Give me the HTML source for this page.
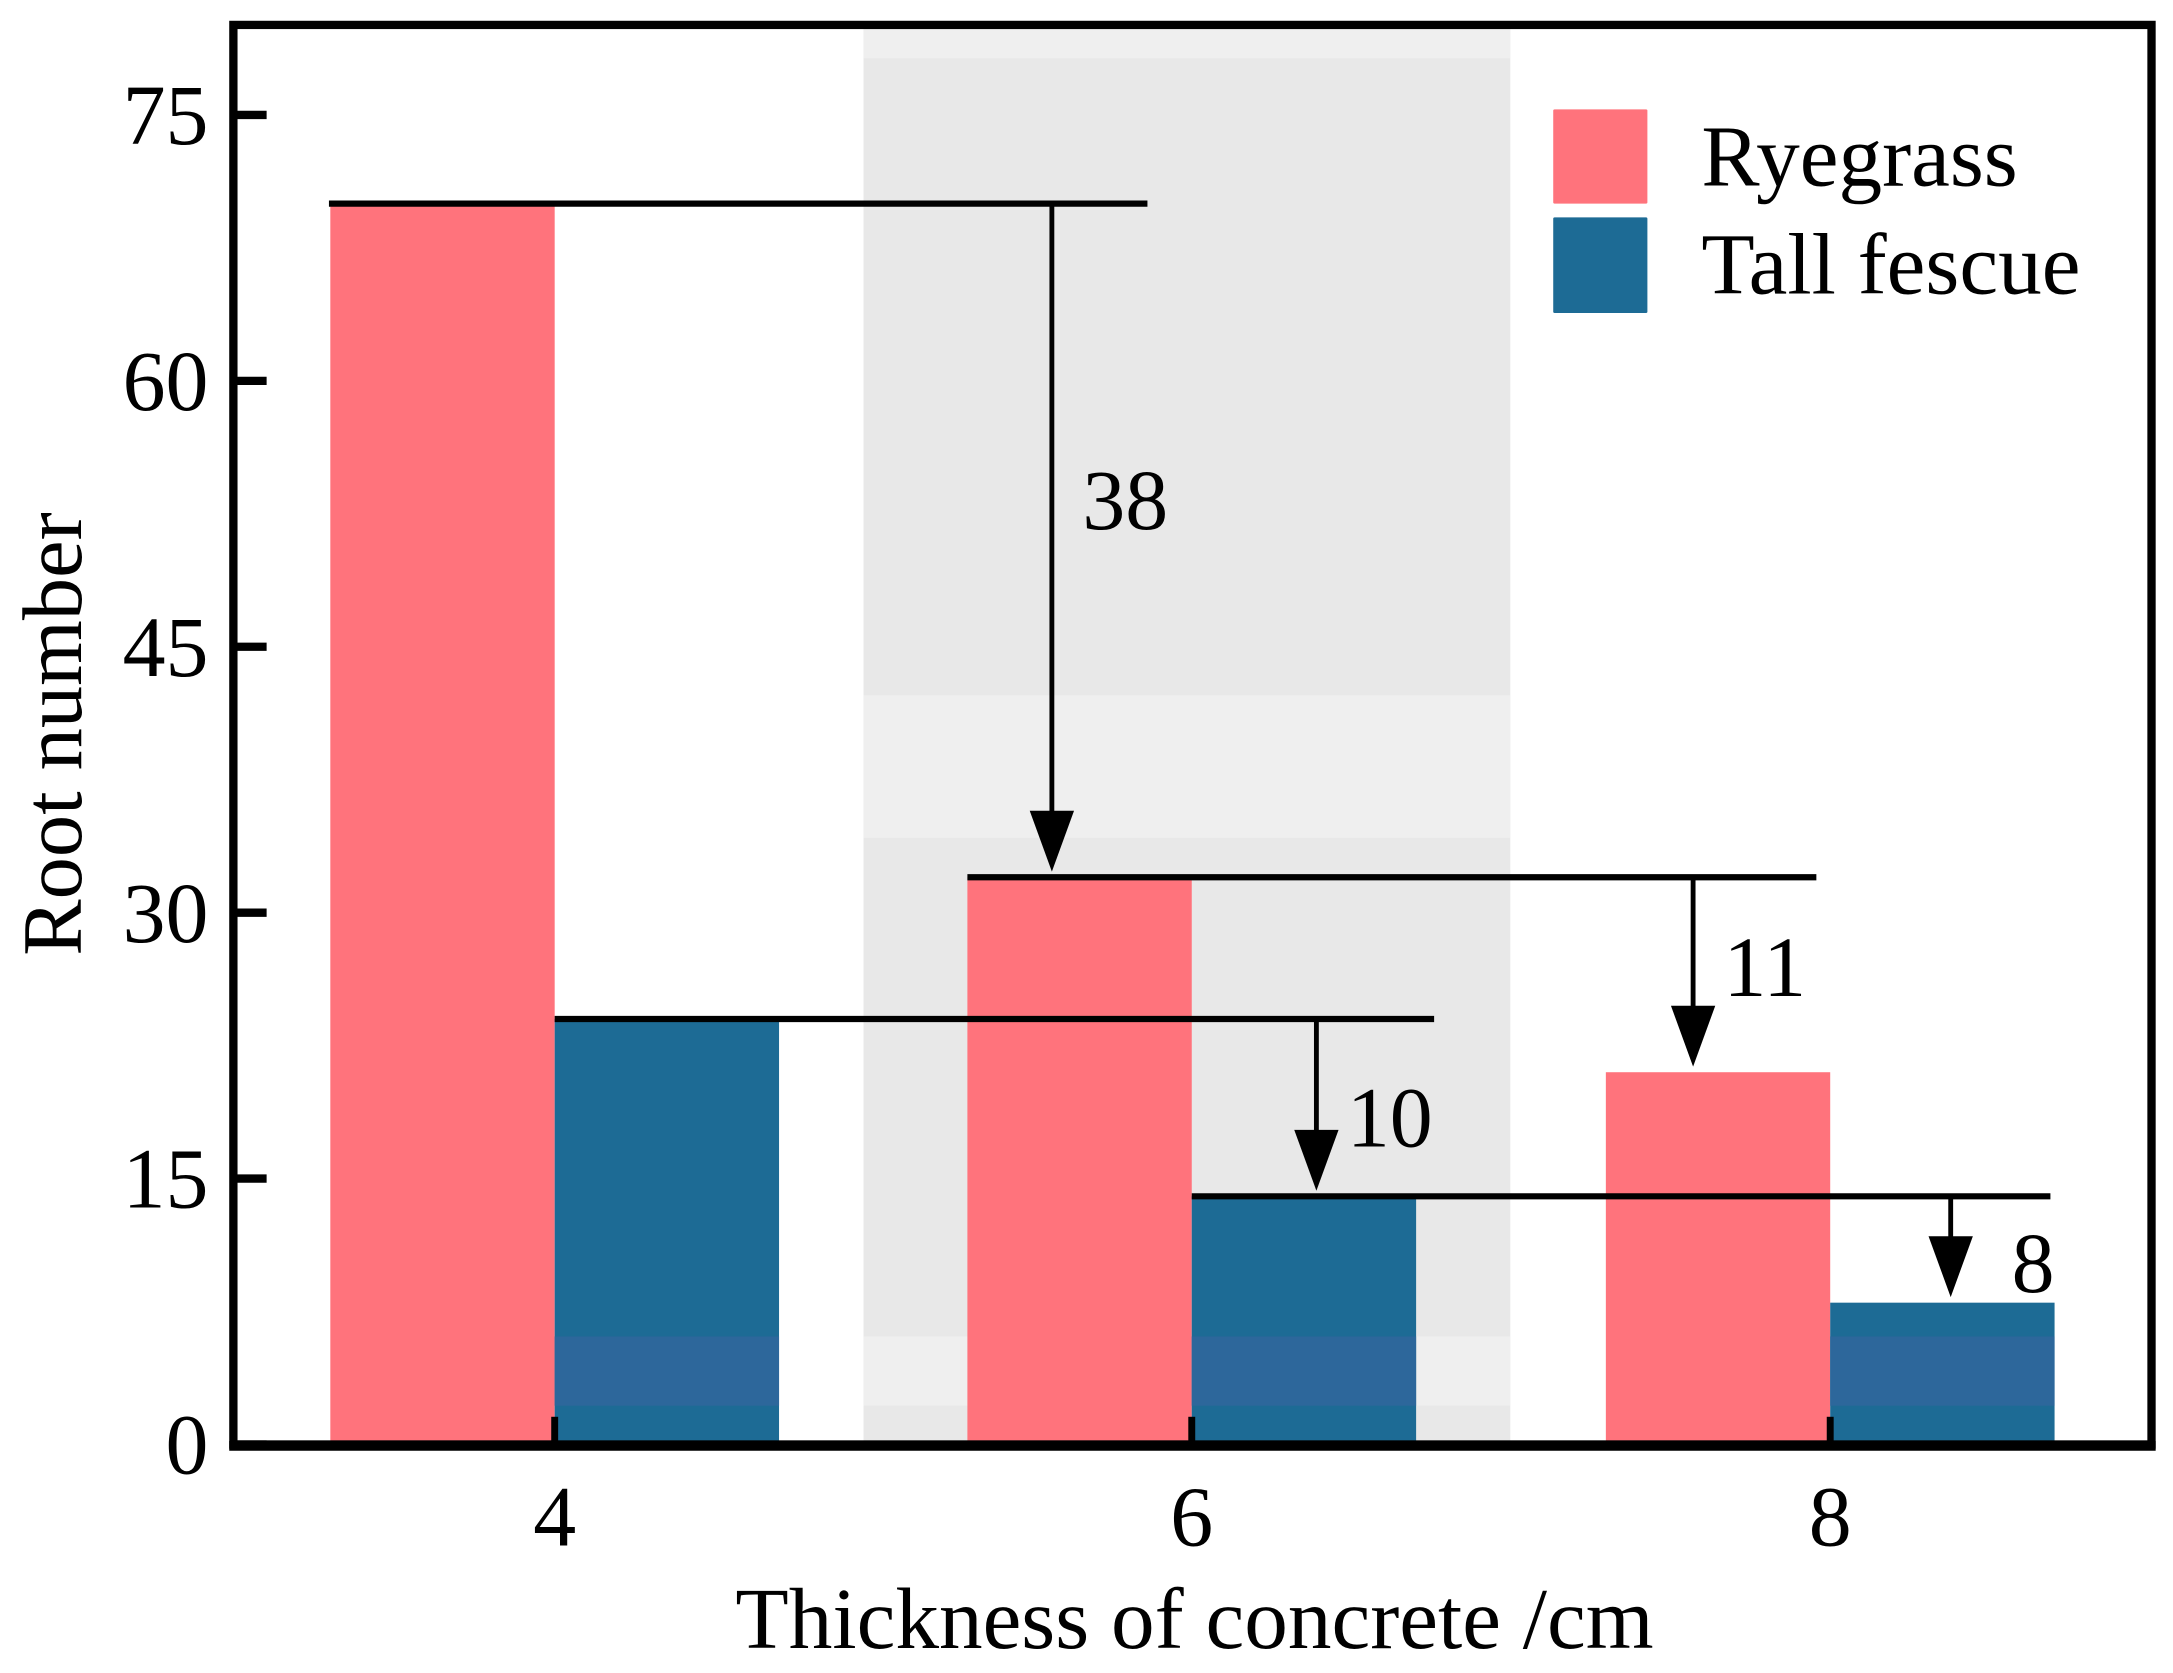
<!DOCTYPE html>
<html><head><meta charset="utf-8"><style>
html,body{margin:0;padding:0;background:#fff;}
svg{display:block;}
text{font-family:"Liberation Serif",serif;fill:#000;}
</style></head><body>
<svg id="chart" width="2173" height="1673" viewBox="0 0 1568 1208" xmlns="http://www.w3.org/2000/svg">
<g id="bg"></g>
<g id="bars"></g>
<g id="ann"></g>
<g id="axes"></g>
<g>
<rect x="1121" y="79" width="68" height="68" rx="1" fill="#ff737c"/>
<text x="1228" y="134" font-size="63">Ryegrass</text>
<rect x="1121" y="157" width="68" height="69" rx="1" fill="#1d6b95"/>
<text x="1228" y="212" font-size="63">Tall fescue</text>
</g>
<text x="862" y="1190" font-size="63" text-anchor="middle">Thickness of concrete /cm</text>
<text transform="translate(58,530) rotate(-90)" font-size="61" text-anchor="middle">Root number</text>
</svg>
<script>
const categories = ["4","6","8"];
const ryegrass = [70, 32, 21];
const tallFescue = [24, 14, 8];
const yTicks = [0, 15, 30, 45, 60, 75];
const diffs = [38, 10, 11, 8];

const NS = "http://www.w3.org/2000/svg";
const X0 = 168, X1 = 1553, Y0 = 1043, PERU = 12.8;
const catX = [400, 860, 1321];
const BW = 162;
function y(v){ return Y0 - v*PERU; }
function el(tag, attrs, parent){ const e=document.createElementNS(NS,tag); for(const k in attrs) e.setAttribute(k,attrs[k]); parent.appendChild(e); return e; }

const bg = document.getElementById('bg');
let b = el('rect',{x:623,y:20,width:467,height:1023,fill:'#e8e8e8'},bg);


[[20,42],[502,605],[965,1015]].forEach(s=>{
  const r = el('rect',{x:623,y:s[0],width:467,height:s[1]-s[0],fill:'#efefef'},bg);
  
  
});

const bars = document.getElementById('bars');
categories.forEach((c,i)=>{
  const r = el('rect',{x:catX[i]-BW,y:y(ryegrass[i]),width:BW,height:Y0-y(ryegrass[i]),fill:'#ff737c'},bars);
  
  
  const f = el('rect',{x:catX[i],y:y(tallFescue[i]),width:BW,height:Y0-y(tallFescue[i]),fill:'#1d6b95'},bars);
  
  
  const ft = Math.max(y(tallFescue[i]),965);
  const s = el('rect',{x:catX[i],y:ft,width:BW,height:1015-ft,fill:'#2d679b'},bars);
  
  
});

const ann = document.getElementById('ann');
const specs = [
  {from:ryegrass[0], to:ryegrass[1], x1:237, x2:828, ax:759, lx:781, ly:382},
  {from:tallFescue[0], to:tallFescue[1], x1:400, x2:1035, ax:950, lx:972, ly:828},
  {from:ryegrass[1], to:ryegrass[2], x1:698, x2:1311, ax:1222, lx:1244, ly:719},
  {from:tallFescue[1], to:tallFescue[2], x1:860, x2:1480, ax:1408, lx:1452, ly:933}
];
specs.forEach((s,i)=>{
  const yl = y(s.from), yt = y(s.to)-4;
  const l = el('line',{x1:s.x1,x2:s.x2,y1:yl,y2:yl,stroke:'#000','stroke-width':4.5},ann);
  
  
  const v = el('line',{x1:s.ax,x2:s.ax,y1:yl,y2:yt-40,stroke:'#000','stroke-width':3.5},ann);
  
  
  const h = el('polygon',{points:`${s.ax-16},${yt-44} ${s.ax+16},${yt-44} ${s.ax},${yt}`,fill:'#000'},ann);
  
  
  const t = el('text',{x:s.lx,y:s.ly,'font-size':62},ann);
  t.textContent = diffs[i];
  
  
});

const axes = document.getElementById('axes');
const fr = el('rect',{x:X0,y:18,width:X1-X0,height:Y0-18,fill:'none',stroke:'#000','stroke-width':6},axes);


const bl = el('line',{x1:X0-3,x2:X1+3,y1:Y0+1,y2:Y0+1,stroke:'#000','stroke-width':7},axes);


yTicks.forEach(v=>{
  const tk = el('line',{x1:X0,x2:X0+24,y1:y(v),y2:y(v),stroke:'#000','stroke-width':6},axes);
  
  
  const t = el('text',{x:150,y:y(v)+21,'font-size':62,'text-anchor':'end'},axes);
  t.textContent = v;
  
  
});
categories.forEach((c,i)=>{
  const tk = el('line',{x1:catX[i],x2:catX[i],y1:Y0,y2:Y0-20,stroke:'#000','stroke-width':5},axes);
  
  
  const t = el('text',{x:catX[i],y:1116,'font-size':62,'text-anchor':'middle'},axes);
  t.textContent = c;
  
  
});
</script>
</body></html>
